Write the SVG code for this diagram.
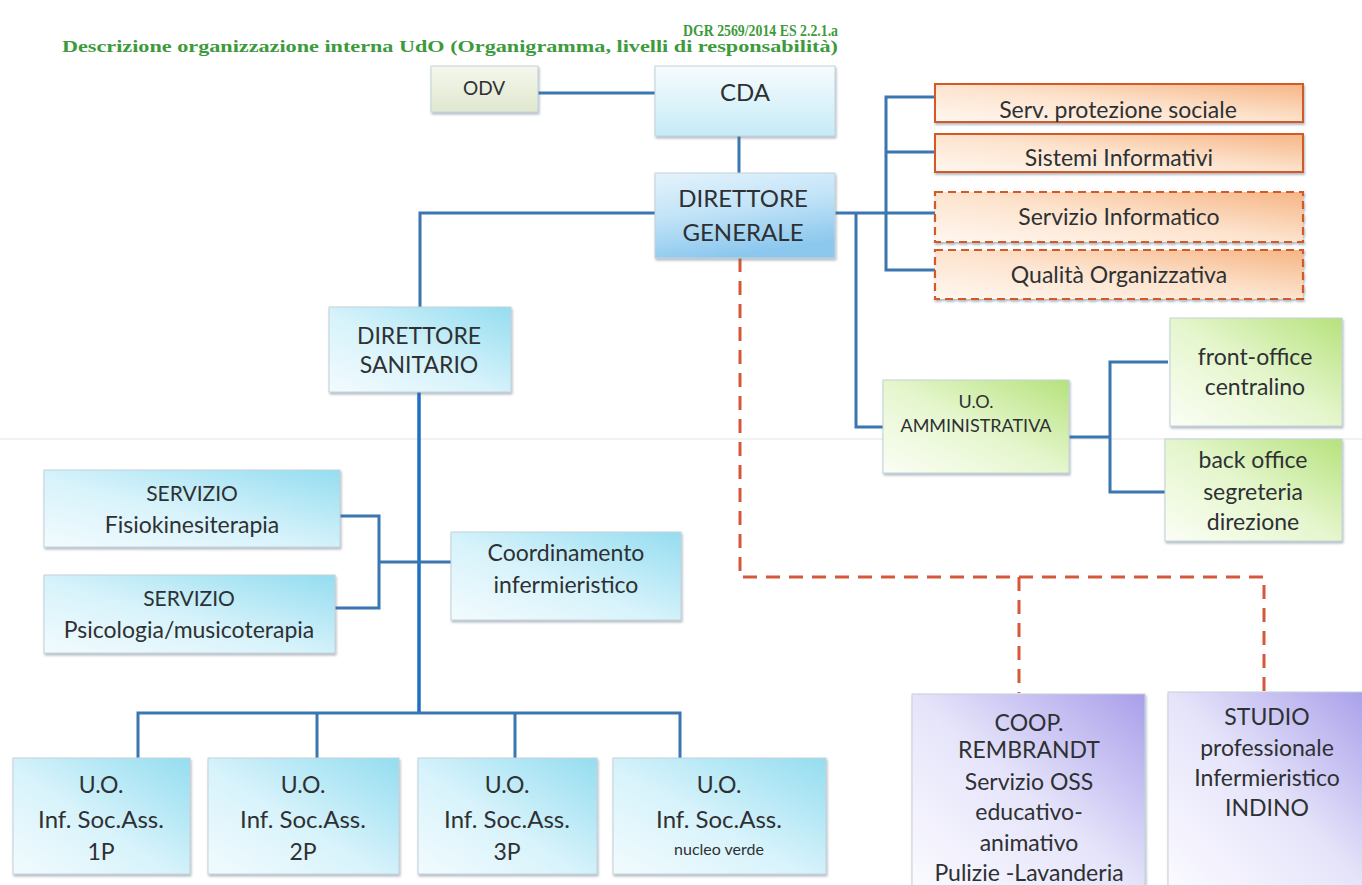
<svg xmlns="http://www.w3.org/2000/svg" width="1362" height="885" viewBox="0 0 1362 885">
<style>
.t{font-family:Lato,"Open Sans","Liberation Sans",sans-serif;fill:#2e3133;text-anchor:middle}
.h{font-family:"Liberation Serif",serif;font-weight:bold;fill:#3d9a3d}
.b{stroke:#c3d2da;stroke-width:1}
.o{stroke:#d35a27;stroke-width:2}
.od{stroke:#d35a27;stroke-width:2.2;stroke-dasharray:8 5}
.ln{fill:none;stroke:#3a77b0;stroke-width:3}
.lm{fill:none;stroke:#1f6fc4;stroke-width:3.5}
.ld{fill:none;stroke:#d6583a;stroke-width:3;stroke-dasharray:14 9}
</style>
<defs>
<filter id="sh" x="-5%" y="-5%" width="110%" height="120%"><feDropShadow dx="1" dy="2" stdDeviation="1.2" flood-color="#55697a" flood-opacity="0.45"/></filter>
<linearGradient id="gBlue" x1="0" y1="1" x2="1" y2="0"><stop offset="0" stop-color="#f2fbfe"/><stop offset="0.45" stop-color="#d8f3fb"/><stop offset="1" stop-color="#94ddf0"/></linearGradient>
<linearGradient id="gDG" x1="0" y1="0" x2="0.3" y2="1"><stop offset="0" stop-color="#e4f3fc"/><stop offset="0.5" stop-color="#c2e3f7"/><stop offset="1" stop-color="#8cc8ee"/></linearGradient>
<linearGradient id="gCDA" x1="0" y1="0" x2="0" y2="1"><stop offset="0" stop-color="#f7fcfe"/><stop offset="1" stop-color="#c6ebf7"/></linearGradient>
<linearGradient id="gODV" x1="0" y1="0" x2="0" y2="1"><stop offset="0" stop-color="#f5f7ec"/><stop offset="1" stop-color="#dfe8cf"/></linearGradient>
<linearGradient id="gOr" x1="0" y1="1" x2="1" y2="0"><stop offset="0" stop-color="#fff7f0"/><stop offset="0.5" stop-color="#fde3cd"/><stop offset="1" stop-color="#f6b585"/></linearGradient>
<linearGradient id="gGr" x1="0" y1="1" x2="1" y2="0"><stop offset="0" stop-color="#fbfef5"/><stop offset="0.5" stop-color="#e5f6cd"/><stop offset="1" stop-color="#b6e27c"/></linearGradient>
<linearGradient id="gPu" x1="0" y1="1" x2="1" y2="0"><stop offset="0" stop-color="#fbfbff"/><stop offset="0.5" stop-color="#e6e4fa"/><stop offset="1" stop-color="#a89fea"/></linearGradient>
</defs>
<rect width="1362" height="885" fill="#ffffff"/>
<path d="M0 439H1362" stroke="#ececec" stroke-width="1.5" fill="none"/>

<g id="header">
<text class="h" x="838" y="36" font-size="17" text-anchor="end" textLength="155" lengthAdjust="spacingAndGlyphs">DGR 2569/2014 ES 2.2.1.a</text>
<text class="h" x="62" y="52" font-size="17" textLength="776" lengthAdjust="spacingAndGlyphs">Descrizione organizzazione interna UdO (Organigramma, livelli di responsabilità)</text>
</g>

<g id="connectors">
<path class="ln" d="M538 93H655"/>
<path class="ln" d="M739 136V173"/>
<path class="ln" d="M655 213H420V307"/>
<path class="ln" d="M835 213H938"/>
<path class="ln" d="M938 97H886V270H938M886 152H938"/>
<path class="ln" d="M856 213V427H884"/>
<path class="ln" d="M1069 437H1110M1168 362H1110V492H1165"/>
<path class="lm" d="M419 392V713"/>
<path class="ln" d="M340 516H379V608H335M379 562H452"/>
<path class="ln" d="M138 775V713H680V772M317 713V758M515 713V758"/>
<path class="ld" d="M740 258V577H1264V692M1019 577V693"/>
</g>

<g id="odv"><rect x="431" y="66" width="107" height="46" fill="url(#gODV)" class="b" filter="url(#sh)"/><text class="t" x="484" y="95" font-size="19">ODV</text></g>
<g id="cda"><rect x="655" y="66" width="180" height="70" fill="url(#gCDA)" class="b" filter="url(#sh)"/><text class="t" x="745" y="101" font-size="24">CDA</text></g>
<g id="dg"><rect x="655" y="173" width="180" height="85" fill="url(#gDG)" class="b" filter="url(#sh)"/><text class="t" x="743" y="207" font-size="24">DIRETTORE</text><text class="t" x="743" y="241" font-size="24">GENERALE</text></g>

<g id="serv-prot"><rect x="935" y="84" width="368" height="38" fill="url(#gOr)" class="o" filter="url(#sh)"/><text class="t" x="1118" y="118" font-size="23">Serv. protezione sociale</text></g>
<g id="sist-inf"><rect x="935" y="134" width="368" height="38" fill="url(#gOr)" class="o" filter="url(#sh)"/><text class="t" x="1119" y="166" font-size="23">Sistemi Informativi</text></g>
<g id="serv-inf"><rect x="935" y="192" width="368" height="50" fill="url(#gOr)" class="od" filter="url(#sh)"/><text class="t" x="1119" y="225" font-size="23">Servizio Informatico</text></g>
<g id="qualita"><rect x="935" y="250" width="368" height="49" fill="url(#gOr)" class="od" filter="url(#sh)"/><text class="t" x="1119" y="283" font-size="23">Qualità Organizzativa</text></g>

<g id="uo-amm"><rect x="883" y="380" width="186" height="93" fill="url(#gGr)" class="b" filter="url(#sh)"/><text class="t" x="976" y="408" font-size="18">U.O.</text><text class="t" x="976" y="432" font-size="18">AMMINISTRATIVA</text></g>
<g id="front-office"><rect x="1170" y="318" width="172" height="108" fill="url(#gGr)" class="b" filter="url(#sh)"/><text class="t" x="1255" y="365" font-size="23">front-office</text><text class="t" x="1255" y="395" font-size="23">centralino</text></g>
<g id="back-office"><rect x="1165" y="439" width="177" height="102" fill="url(#gGr)" class="b" filter="url(#sh)"/><text class="t" x="1253" y="468" font-size="23">back office</text><text class="t" x="1253" y="500" font-size="23">segreteria</text><text class="t" x="1253" y="530" font-size="23">direzione</text></g>

<g id="ds"><rect x="329" y="307" width="182" height="85" fill="url(#gBlue)" class="b" filter="url(#sh)"/><text class="t" x="419" y="344" font-size="23">DIRETTORE</text><text class="t" x="419" y="373" font-size="23">SANITARIO</text></g>
<g id="fisio"><rect x="44" y="470" width="296" height="77" fill="url(#gBlue)" class="b" filter="url(#sh)"/><text class="t" x="192" y="501" font-size="21">SERVIZIO</text><text class="t" x="192" y="533" font-size="23">Fisiokinesiterapia</text></g>
<g id="psico"><rect x="44" y="575" width="291" height="78" fill="url(#gBlue)" class="b" filter="url(#sh)"/><text class="t" x="189" y="606" font-size="21">SERVIZIO</text><text class="t" x="189" y="638" font-size="23">Psicologia/musicoterapia</text></g>
<g id="coord"><rect x="451" y="532" width="230" height="88" fill="url(#gBlue)" class="b" filter="url(#sh)"/><text class="t" x="566" y="561" font-size="23">Coordinamento</text><text class="t" x="566" y="593" font-size="23">infermieristico</text></g>

<g id="uo1"><rect x="13" y="758" width="177" height="116" fill="url(#gBlue)" class="b" filter="url(#sh)"/><text class="t" x="101" y="793" font-size="23">U.O.</text><text class="t" x="101" y="828" font-size="24">Inf. Soc.Ass.</text><text class="t" x="101" y="860" font-size="23">1P</text></g>
<g id="uo2"><rect x="208" y="758" width="191" height="116" fill="url(#gBlue)" class="b" filter="url(#sh)"/><text class="t" x="303" y="793" font-size="23">U.O.</text><text class="t" x="303" y="828" font-size="24">Inf. Soc.Ass.</text><text class="t" x="303" y="860" font-size="23">2P</text></g>
<g id="uo3"><rect x="418" y="758" width="179" height="116" fill="url(#gBlue)" class="b" filter="url(#sh)"/><text class="t" x="507" y="793" font-size="23">U.O.</text><text class="t" x="507" y="828" font-size="24">Inf. Soc.Ass.</text><text class="t" x="507" y="860" font-size="23">3P</text></g>
<g id="uo4"><rect x="613" y="758" width="213" height="116" fill="url(#gBlue)" class="b" filter="url(#sh)"/><text class="t" x="719" y="793" font-size="23">U.O.</text><text class="t" x="719" y="828" font-size="24">Inf. Soc.Ass.</text><text class="t" x="719" y="855" font-size="16">nucleo verde</text></g>

<g id="coop"><rect x="912" y="694" width="233" height="200" fill="url(#gPu)" class="b" filter="url(#sh)"/><text class="t" x="1029" y="731" font-size="23">COOP.</text><text class="t" x="1029" y="758" font-size="23">REMBRANDT</text><text class="t" x="1029" y="790" font-size="23">Servizio OSS</text><text class="t" x="1029" y="820" font-size="23">educativo-</text><text class="t" x="1029" y="851" font-size="23">animativo</text><text class="t" x="1029" y="881" font-size="23">Pulizie -Lavanderia</text></g>
<g id="studio"><rect x="1168" y="692" width="200" height="200" fill="url(#gPu)" class="b" filter="url(#sh)"/><text class="t" x="1267" y="725" font-size="23">STUDIO</text><text class="t" x="1267" y="756" font-size="23">professionale</text><text class="t" x="1267" y="786" font-size="23">Infermieristico</text><text class="t" x="1267" y="816" font-size="23">INDINO</text></g>
</svg>
